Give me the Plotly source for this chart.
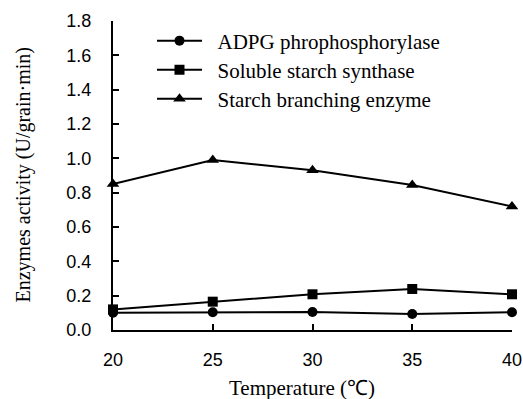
import plotly.graph_objects as go

temps = [20, 25, 30, 35, 40]
adpg = [0.10, 0.103, 0.105, 0.093, 0.103]
sss = [0.12, 0.165, 0.208, 0.239, 0.208]
sbe = [0.85, 0.99, 0.93, 0.845, 0.72]
names = ["ADPG phrophosphorylase", "Soluble starch synthase", "Starch branching enzyme"]
symbols = ["circle", "square", "triangle-up"]
sizes = [10, 10, 11]
series = [adpg, sss, sbe]
x_title = "Temperature (℃)"
y_title = "Enzymes activity (U/grain·min)"

W, H = 523, 399
ML, MR, MT, MB = 113, 11, 21, 69
PW, PH = W - ML - MR, H - MT - MB


def px_to_paper(px, py):
    return (px - ML) / PW, (H - MB - py) / PH


fig = go.Figure()
legend_ids = ["legend", "legend2", "legend3"]
for i, (nm, sy, ys) in enumerate(zip(names, symbols, series)):
    fig.add_trace(go.Scatter(
        x=temps, y=ys, name="\u00a0\u00a0" + nm, mode="lines+markers",
        line=dict(color="black", width=2),
        marker=dict(symbol=sy, size=sizes[i], color="black"),
        cliponaxis=False, legend=legend_ids[i]))

serif = "Liberation Serif, Times New Roman, serif"
sans = "Liberation Sans, Arial, sans-serif"
lg_y = [41, 70, 99]
legs = {}
for i, lid in enumerate(legend_ids):
    legs[lid] = dict(x=152 / W, xanchor="left", y=1 - lg_y[i] / H, yanchor="middle",
                     xref="container", yref="container", bgcolor="rgba(0,0,0,0)",
                     font=dict(family=serif, size=21, color="black"),
                     itemwidth=45, tracegroupgap=0)

xt = px_to_paper(302, 388)
yt = px_to_paper(23, 175.5)

fig.update_layout(
    width=W, height=H,
    margin=dict(l=ML, r=MR, t=MT, b=MB, autoexpand=False),
    plot_bgcolor="white", paper_bgcolor="white",
    showlegend=True,
    **legs,
    xaxis=dict(range=[20, 40], tickvals=temps, ticks="inside", ticklen=6, tickwidth=2,
               tickcolor="black", showline=True, linecolor="black", linewidth=2,
               showgrid=False, zeroline=False, ticklabelstandoff=12,
               tickfont=dict(family=sans, size=18, color="black")),
    yaxis=dict(range=[0, 1.8], tickvals=[0, 0.2, 0.4, 0.6, 0.8, 1.0, 1.2, 1.4, 1.6, 1.8],
               tickformat=".1f", ticks="inside", ticklen=6, tickwidth=2,
               tickcolor="black", showline=True, linecolor="black", linewidth=2,
               showgrid=False, zeroline=False, ticklabelstandoff=16,
               tickfont=dict(family=sans, size=18, color="black")),
    annotations=[
        dict(text=x_title, x=xt[0], y=xt[1], xref="paper", yref="paper",
             xanchor="center", yanchor="middle", showarrow=False,
             font=dict(family=serif, size=21, color="black")),
        dict(text=y_title, x=yt[0], y=yt[1], xref="paper", yref="paper",
             xanchor="center", yanchor="middle", showarrow=False, textangle=-90,
             font=dict(family=serif, size=20, color="black")),
    ],
)
fig.write_html("out.html", config={"displayModeBar": False},
               post_script="document.body.style.margin='0px';")
